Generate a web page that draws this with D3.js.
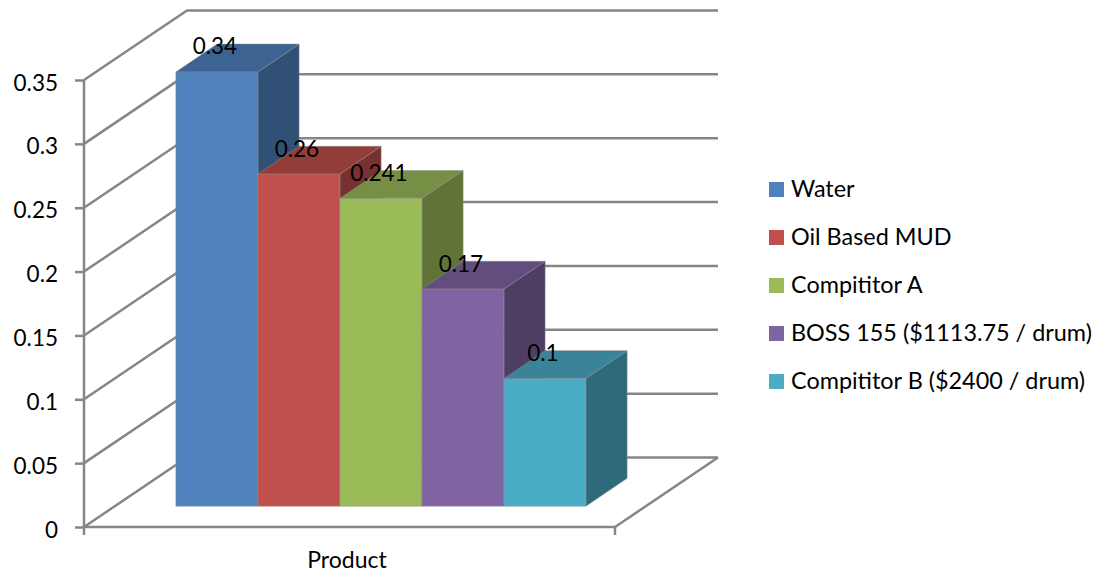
<!DOCTYPE html>
<html><head><meta charset="utf-8">
<script src="https://cdn.jsdelivr.net/npm/d3@7/dist/d3.min.js"></script>
<style>html,body{margin:0;padding:0;background:#fff}svg{display:block}text{font-family:Lato,sans-serif;fill:#000}</style>
</head><body><svg id="c" width="1098" height="572"></svg>
<script>
const seriesNames = ["Water","Oil Based MUD","Compititor A","BOSS 155 ($1113.75 / drum)","Compititor B ($2400 / drum)"];
const seriesValues = [0.34,0.26,0.241,0.17,0.1];
const valueLabels = ["0.34","0.26","0.241","0.17","0.1"];
const seriesColors = ["#4F81BD","#C0504D","#9BBB59","#8064A2","#4BACC6"];
const yTicks = [0,0.05,0.1,0.15,0.2,0.25,0.3,0.35];
const yTickLabels = ["0","0.05","0.1","0.15","0.2","0.25","0.3","0.35"];
const categoryName = "Product";

const svg = d3.select("#c");
const left=84, right=615, floorY=527, topY=80, depthX=103, depthY=69.5;
const y = d3.scaleLinear().domain([0,0.35]).range([floorY,topY]);
const x = d3.scaleBand().domain(seriesNames).range([145,555]).padding(0);
const px=(sx,z)=>sx+z*depthX;
const py=(v,z)=>y(v)-z*depthY;
const grid="#868686", lw=2.5;
const line=d3.line();

// walls
const g=svg.append("g").attr("fill","none").attr("stroke",grid).attr("stroke-width",lw);
yTicks.forEach(t=>{
  g.append("path").attr("d",line([[left,py(t,0)],[px(left,1),py(t,1)],[px(right,1),py(t,1)]]));
});
g.append("path").attr("d",line([[left,floorY],[right,floorY],[px(right,1),py(0,1)]]));
g.append("path").attr("d",line([[right,floorY],[right,floorY+8]]));
g.append("path").attr("d",line([[left,floorY],[left,floorY+8]]));

// y axis
const axis=d3.axisLeft(y).tickValues(yTicks).tickSize(9).tickPadding(17)
  .tickFormat((d,i)=>yTickLabels[i]);
const ag=svg.append("g").attr("transform",`translate(${left},0)`).call(axis);
ag.selectAll("path.domain").attr("stroke",grid).attr("stroke-width",lw).attr("d",line([[0,topY],[0,floorY]]));
ag.selectAll("line").attr("stroke",grid).attr("stroke-width",lw);
ag.selectAll("text").attr("font-size",22.5).attr("font-family","Lato").attr("fill","#000").attr("dy","0.36em").attr("transform","translate(0,2)");

// bars
const z0=0.3,z1=0.7;
const bars=svg.append("g");
seriesNames.forEach((n,i)=>{
  const v=seriesValues[i],c=seriesColors[i];
  const a=px(x(n),z0),b=px(x(n)+x.bandwidth(),z0),a2=px(x(n),z1),b2=px(x(n)+x.bandwidth(),z1);
  const top=d3.rgb(c).darker(0.75), side=d3.rgb(c).darker(1.35);
  const edge={"stroke":"#8a8a8a","stroke-width":0.5};
  bars.append("path").attr("d",line([[b,py(0,z0)],[b2,py(0,z1)],[b2,py(v,z1)],[b,py(v,z0)]])+"Z").attr("fill",side).attr("stroke",edge.stroke).attr("stroke-width",edge["stroke-width"]);
  bars.append("path").attr("d",line([[a,py(v,z0)],[a2,py(v,z1)],[b2,py(v,z1)],[b,py(v,z0)]])+"Z").attr("fill",top).attr("stroke",edge.stroke).attr("stroke-width",edge["stroke-width"]);
  bars.append("path").attr("d",line([[a,py(0,z0)],[b,py(0,z0)],[b,py(v,z0)],[a,py(v,z0)]])+"Z").attr("fill",c).attr("stroke",edge.stroke).attr("stroke-width",edge["stroke-width"]);
});
// value labels
seriesNames.forEach((n,i)=>{
  svg.append("text").attr("x",px(x(n)+x.bandwidth()/2,z0)-2).attr("y",py(seriesValues[i],z0)-26)
    .attr("text-anchor","middle").attr("dominant-baseline","central").attr("font-size",22.5).text(valueLabels[i]);
});
// category
svg.append("text").attr("x",347).attr("y",559).attr("text-anchor","middle").attr("dominant-baseline","central").attr("font-size",23).text(categoryName);
// legend
const lg=d3.scalePoint().domain(seriesNames).range([189.5,381.5]);
seriesNames.forEach((n,i)=>{
  svg.append("rect").attr("x",769).attr("y",lg(n)-7.5).attr("width",15).attr("height",15).attr("fill",seriesColors[i]);
  svg.append("text").attr("x",791).attr("y",lg(n)-2).attr("dominant-baseline","central").attr("font-size",23.4).text(n);
});
</script></body></html>
